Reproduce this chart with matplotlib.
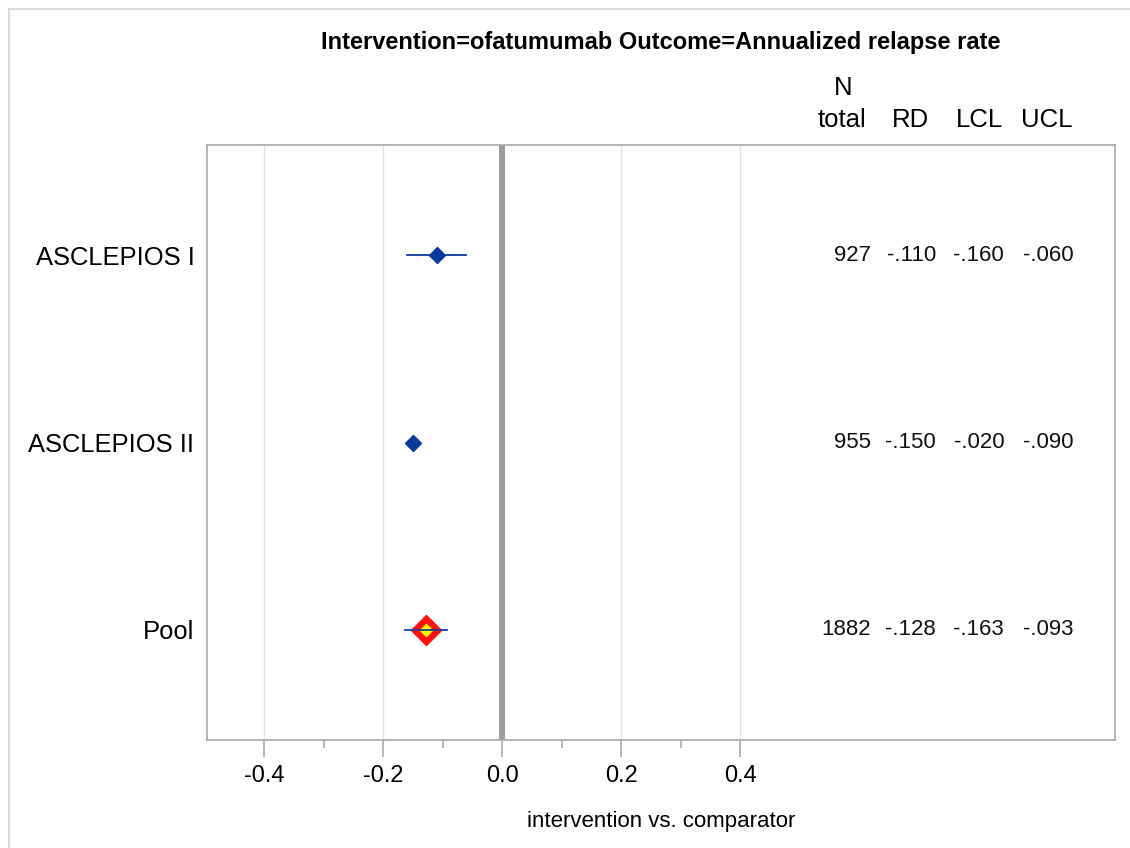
import matplotlib
matplotlib.use("Agg")
import matplotlib.pyplot as plt
from matplotlib.lines import Line2D

plt.rcParams['font.family'] = ['Liberation Sans', 'DejaVu Sans']

# Study-level and pooled risk differences
studies = ["ASCLEPIOS I", "ASCLEPIOS II", "Pool"]
n_total = [927, 955, 1882]
rd = [-0.110, -0.150, -0.128]
lcl = [-0.160, -0.020, -0.163]
ucl = [-0.060, -0.090, -0.093]
is_pool = [False, False, True]

xticks = [-0.4, -0.2, 0.0, 0.2, 0.4]
xminor = [-0.3, -0.1, 0.1, 0.3]

title = "Intervention=ofatumumab Outcome=Annualized relapse rate"
xlabel = "intervention vs. comparator"
col_headers = ["total", "RD", "LCL", "UCL"]

W, H = 1130, 848
fig = plt.figure(figsize=(W / 100, H / 100), dpi=100)
fig.patch.set_facecolor("white")


def fx(px):
    return px / W


def fy(py):
    return 1 - py / H


# outer page border
fig.add_artist(Line2D([fx(8.5), fx(8.5)], [0, fy(8.5)], color="#d4d4d4", lw=1.2))
fig.add_artist(Line2D([fx(8.5), 1], [fy(8.5), fy(8.5)], color="#d4d4d4", lw=1.2))

ax = fig.add_axes([fx(207), fy(740), fx(1115) - fx(207), fy(145) - fy(740)])
ax.set_xlim(-0.496, 1.03)
ax.set_ylim(3.59, 0.41)

frame_c = "#a8a8a8"
for sp in ax.spines.values():
    sp.set_color(frame_c)
    sp.set_linewidth(1.2)

# grid at major ticks
for t in xticks:
    if t != 0:
        ax.axvline(t, color="#e3e3e3", lw=1.0, zorder=0)
# reference line at zero
ax.axvline(0, color="#9a9c9f", lw=4.3, zorder=1)

ypos = list(range(1, len(studies) + 1))
blue = "#0a3a9c"
for y, r, lo, hi, pool in zip(ypos, rd, lcl, ucl, is_pool):
    if pool:
        ax.plot([r], [y], marker="D", ms=15.5, color="#ff1010", mec="#ff1010", zorder=3, ls="none")
        ax.plot([r], [y], marker="D", ms=6.5, color="#ffff00", mec="#ffff00", zorder=4, ls="none")
        if lo <= hi:
            ax.plot([lo, hi], [y, y], color="#1f3c94", lw=1.3, zorder=5)
    else:
        if lo <= hi:
            ax.plot([lo, hi], [y, y], color=blue, lw=1.3, zorder=3)
        ax.plot([r], [y], marker="D", ms=8.5, color=blue, mec=blue, zorder=4, ls="none")

ax.set_xticks(xticks)
ax.set_xticklabels([f"{t:.1f}" for t in xticks], fontsize=17)
ax.set_xticks(xminor, minor=True)
ax.tick_params(axis="x", which="major", length=12, width=1.2, color=frame_c, pad=6)
ax.tick_params(axis="x", which="minor", length=6, width=1.2, color=frame_c)
ax.set_yticks(ypos)
ax.set_yticklabels(studies, fontsize=18.4)
ax.tick_params(axis="y", length=0, pad=9)
ax.set_xlabel(xlabel, fontsize=16, labelpad=17)

# table columns to the right
col_right = [871, 936, 1004, 1073]
for y, n, r, lo, hi in zip(ypos, n_total, rd, lcl, ucl):
    vals = [str(n)] + [("-" if v < 0 else "") + f"{abs(v):.3f}"[1:] for v in (r, lo, hi)]
    for px, s in zip(col_right, vals):
        ax.text((px - 502) / 595, y, s, fontsize=16, ha="right", va="center", color="#111111")

hdr_centers = [842, 910, 980, 1047]
fig.text(fx(843), fy(88), "N", fontsize=18.5, ha="center", va="center")
for px, s in zip(hdr_centers, col_headers):
    fig.text(fx(px), fy(120), s, fontsize=18.5, ha="center", va="center")

fig.text(fx(661), fy(42), title, fontsize=17, fontweight="bold", ha="center", va="center")

fig.savefig("out.png", dpi=100)
